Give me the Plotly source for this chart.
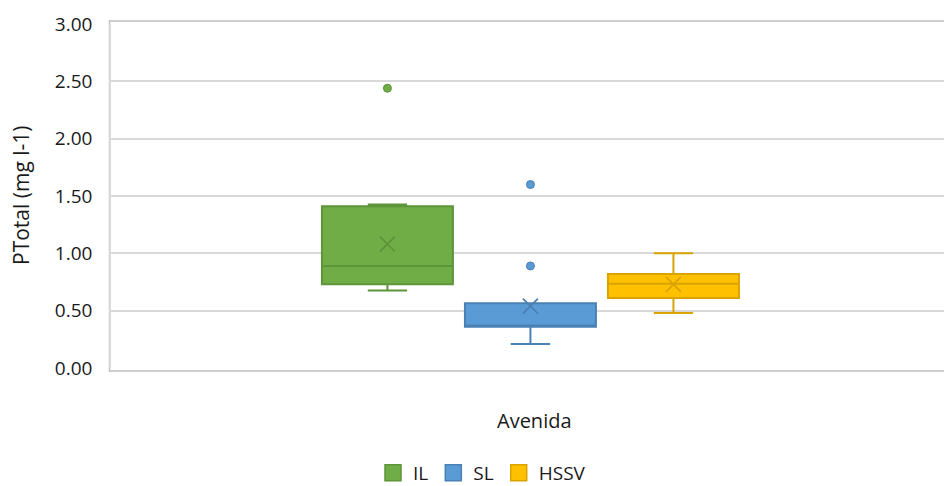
import plotly.graph_objects as go

# ---- data ----
categories = ["IL", "SL", "HSSV"]
q1 = [0.73, 0.36, 0.61]
median = [0.89, 0.37, 0.735]
q3 = [1.41, 0.565, 0.82]
lower_whisker = [0.675, 0.21, 0.48]
upper_whisker = [1.425, 0.565, 1.00]
means = [1.08, 0.54, 0.73]
outliers = [[2.44], [1.60, 0.89], []]
y_ticks = [0.0, 0.5, 1.0, 1.5, 2.0, 2.5, 3.0]
x_title = "Avenida"
y_title = "PTotal (mg l-1)"

# ---- styles ----
fills = ["#70AD47", "#5B9BD5", "#FFC000"]
lines = ["#5E943A", "#4A80B3", "#D9A400"]
positions = [-1, 0, 1]
FONT = "Open Sans"
TXT = "#1A1A1A"

fig = go.Figure()
for i, cat in enumerate(categories):
    fig.add_trace(go.Box(
        x=[positions[i]], q1=[q1[i]], median=[median[i]], q3=[q3[i]],
        lowerfence=[lower_whisker[i]], upperfence=[upper_whisker[i]],
        width=0.916, whiskerwidth=0.3,
        fillcolor=fills[i], line=dict(color=lines[i], width=2),
        showlegend=False, hoverinfo="skip", name=cat,
    ))
    fig.add_trace(go.Scatter(
        x=[positions[i]], y=[means[i]], mode="markers",
        marker=dict(symbol="x-thin-open", size=15, color=lines[i],
                    line=dict(color=lines[i], width=1.8)),
        showlegend=False, hoverinfo="skip",
    ))
    if outliers[i]:
        fig.add_trace(go.Scatter(
            x=[positions[i]] * len(outliers[i]), y=outliers[i], mode="markers",
            marker=dict(symbol="circle", size=8, color=fills[i],
                        line=dict(color=lines[i], width=1)),
            showlegend=False, hoverinfo="skip",
        ))
    # legend entry
    fig.add_trace(go.Scatter(
        x=[None], y=[None], mode="markers", name=cat,
        marker=dict(symbol="square", size=16, color=fills[i],
                    line=dict(color=lines[i], width=1.5)),
    ))

fig.update_layout(
    width=944, height=486,
    margin=dict(l=111, r=0, t=24, b=118),
    paper_bgcolor="white", plot_bgcolor="white",
    font=dict(family=FONT, size=19, color=TXT),
    showlegend=True,
    legend=dict(orientation="h", x=482 / 944, xanchor="center", xref="container",
                y=1 - 454 / 486, yanchor="top", yref="container",
                font=dict(size=19, color=TXT),
                itemwidth=30, tracegroupgap=0),
    xaxis=dict(range=[-2.933, 2.892], showticklabels=False, showgrid=False,
               zeroline=False, showline=False, fixedrange=True),
    yaxis=dict(range=[0, 3], tickvals=y_ticks,
               ticktext=[f"{v:.2f}" for v in y_ticks],
               showgrid=True, gridcolor="#D9D9D9", gridwidth=1.5,
               zeroline=False, showline=True, linecolor="#D9D9D9", linewidth=1.5,
               ticklabelstandoff=13, tickfont=dict(size=19, color=TXT)),
    annotations=[
        dict(text=x_title, xref="paper", yref="paper",
             x=(534 - 111) / 833, y=-(420 - 368) / 344,
             xanchor="center", yanchor="middle", showarrow=False,
             font=dict(size=20, color=TXT)),
        dict(text=y_title, xref="paper", yref="paper",
             x=-(111 - 21) / 833, y=(368 - 195) / 344, textangle=-90,
             xanchor="center", yanchor="middle", showarrow=False,
             font=dict(size=21, color=TXT)),
    ],
    shapes=[
        dict(type="rect", xref="paper", yref="paper",
             x0=-(111 - 109.5) / 833, x1=1.05,
             y0=-(371 - 368) / 344, y1=1 + (24 - 21) / 344,
             line=dict(color="#BFBFBF", width=1.5), fillcolor="rgba(0,0,0,0)",
             layer="below"),
    ],
)

fig.write_html("out.html", config={"displayModeBar": False},
               post_script="document.body.style.margin='0';")
